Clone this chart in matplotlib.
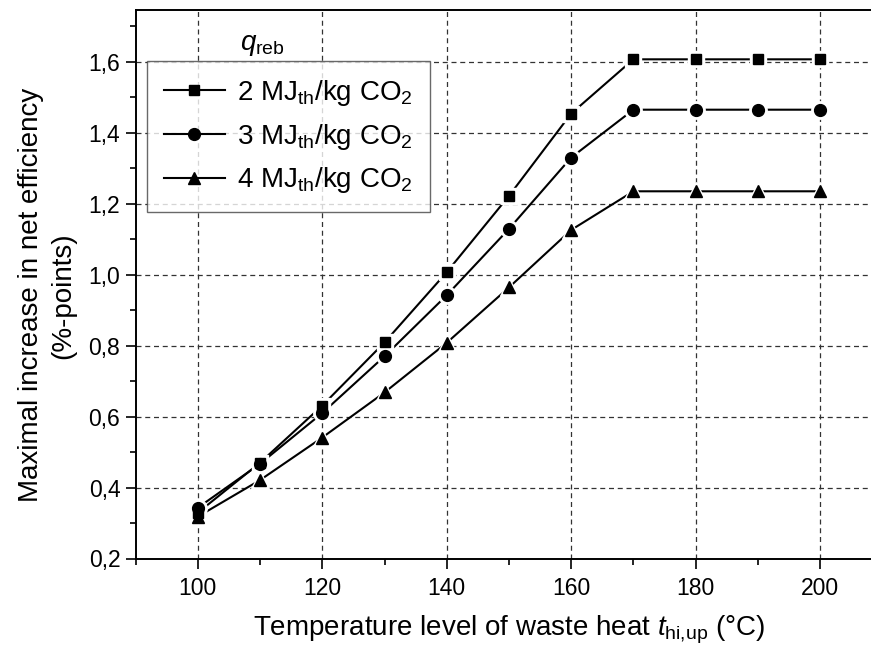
import matplotlib
matplotlib.use("Agg")
import matplotlib.pyplot as plt
from matplotlib.ticker import MultipleLocator, FuncFormatter

plt.rcParams["font.family"] = ["Liberation Sans", "DejaVu Sans"]
plt.rcParams["mathtext.fontset"] = "custom"
plt.rcParams["mathtext.rm"] = "Liberation Sans"
plt.rcParams["mathtext.it"] = "Liberation Sans:italic"
plt.rcParams["mathtext.bf"] = "Liberation Sans:bold"

# Waste-heat temperature levels (°C)
temperature = [100, 110, 120, 130, 140, 150, 160, 170, 180, 190, 200]

# Maximal increase in net efficiency (%-points) per reboiler duty
eff_2mj = [0.329, 0.470, 0.631, 0.809, 1.007, 1.222, 1.454, 1.607, 1.607, 1.607, 1.607]
eff_3mj = [0.343, 0.467, 0.610, 0.770, 0.942, 1.129, 1.330, 1.465, 1.465, 1.465, 1.465]
eff_4mj = [0.318, 0.421, 0.541, 0.668, 0.808, 0.964, 1.126, 1.235, 1.235, 1.235, 1.235]

series_labels = [
    r"2 MJ$_\mathrm{th}$/kg CO$_\mathrm{2}$",
    r"3 MJ$_\mathrm{th}$/kg CO$_\mathrm{2}$",
    r"4 MJ$_\mathrm{th}$/kg CO$_\mathrm{2}$",
]
series_values = [eff_2mj, eff_3mj, eff_4mj]
series_markers = ["s", "o", "^"]
series_sizes = [7.5, 8.5, 9.0]

W, H = 871, 652
fig = plt.figure(figsize=(W / 100, H / 100), dpi=100)
left, right, bottom, top = 135.6, 882.3, 558.5, 10.0
ax = fig.add_axes([left / W, 1 - bottom / H, (right - left) / W, (bottom - top) / H])

handles = []
for vals, mk, ms, lab in zip(series_values, series_markers, series_sizes, series_labels):
    ax.plot(temperature, vals, color="black", lw=1.5, zorder=3)
    # white halo opens a small gap between the line and each symbol
    ax.plot(temperature, vals, ls="none", marker=mk, ms=ms + 4, color="white",
            mec="white", zorder=4)
    ax.plot(temperature, vals, ls="none", marker=mk, ms=ms, color="black",
            mec="black", zorder=5)
    h, = ax.plot([], [], color="black", lw=1.5, marker=mk, ms=ms, label=lab)
    handles.append(h)

ax.set_xlim(90, 210)
ax.set_ylim(0.2, 1.746)
ax.xaxis.set_major_locator(MultipleLocator(20))
ax.xaxis.set_minor_locator(MultipleLocator(10))
ax.yaxis.set_major_locator(MultipleLocator(0.2))
ax.yaxis.set_minor_locator(MultipleLocator(0.1))
ax.yaxis.set_major_formatter(FuncFormatter(lambda v, p: f"{v:.1f}".replace(".", ",")))

ax.tick_params(which="major", direction="out", length=7, width=1.2, labelsize=16.5)
ax.tick_params(axis="x", which="major", pad=6)
ax.tick_params(axis="y", which="major", pad=4)
ax.tick_params(which="minor", direction="out", length=4.5, width=1.2)
ax.tick_params(top=False, right=False)

for s in ax.spines.values():
    s.set_linewidth(1.4)

ax.grid(True, which="major", color="#333333", lw=0.9, linestyle=(0, (4, 3)))
ax.set_axisbelow(True)

ax.set_xlabel(r"Temperature level of waste heat $t_\mathrm{hi{,}up}$ (°C)", fontsize=20,
              labelpad=10)
ax.set_ylabel("Maximal increase in net efficiency\n(%-points)", fontsize=20,
              linespacing=1.3)
ax.yaxis.set_label_coords(-0.08, 0.48)

leg = ax.legend(handles=handles, loc="upper left",
                bbox_to_anchor=(147 / W, 1 - 61 / H), bbox_transform=fig.transFigure,
                borderaxespad=0, fontsize=20, frameon=True, fancybox=False,
                handlelength=2.2, handletextpad=0.45, labelspacing=0.5,
                borderpad=0.6)
leg.get_frame().set_edgecolor("#444444")
leg.get_frame().set_linewidth(1.0)
leg.set_zorder(6)

fig.text(240 / W, 1 - 50 / H, r"$q_\mathrm{reb}$", fontsize=20, va="baseline",
         ha="left")

fig.savefig("out.png", dpi=100)
